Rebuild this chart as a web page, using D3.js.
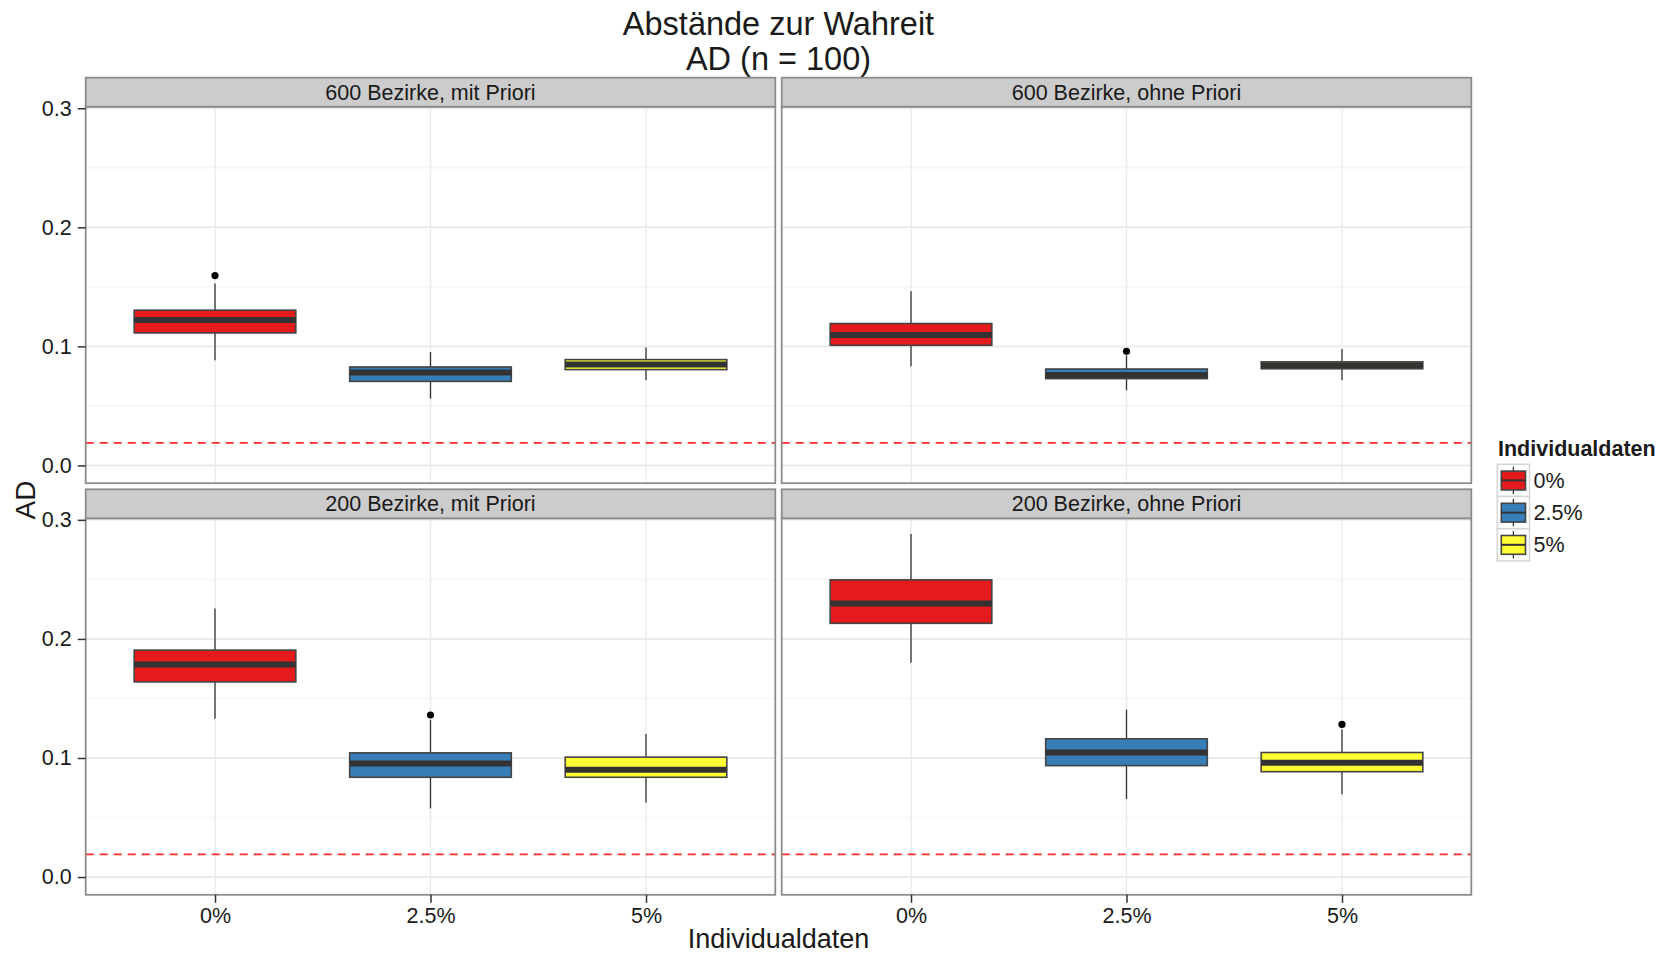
<html>
<head>
<meta charset="utf-8">
<title>Abstände zur Wahreit</title>
<script src="https://d3js.org/d3.v7.min.js"></script>
<style>
	body { margin: 0; background: white; }
	text { font-family: "Liberation Sans", Arial, sans-serif; fill: #1a1a1a; }
</style>
</head>
<body>
<svg id="chart" width="1668" height="954"></svg>
<script>

// Data
var facetTitles = ["600 Bezirke, mit Priori", "600 Bezirke, ohne Priori",
	"200 Bezirke, mit Priori", "200 Bezirke, ohne Priori"];
var groups = ["0%", "2.5%", "5%"];
var colorarray = ["#E41A1C", "#377EB8", "#FFFF33"];

// one row per facet, one value per group
var lowerWhisker = [[0.0883, 0.0561, 0.0715], [0.0833, 0.0631, 0.0715], [0.1330, 0.0577, 0.0627], [0.1799, 0.0655, 0.0695]];
var q1           = [[0.1113, 0.0706, 0.0805], [0.1009, 0.0729, 0.0812], [0.1639, 0.0838, 0.0838], [0.2131, 0.0936, 0.0885]];
var median       = [[0.1222, 0.0780, 0.0847], [0.1096, 0.0760, 0.0841], [0.1785, 0.0953, 0.0902], [0.2297, 0.1046, 0.0961]];
var q3           = [[0.1304, 0.0827, 0.0889], [0.1192, 0.0810, 0.0870], [0.1906, 0.1043, 0.1007], [0.2496, 0.1161, 0.1046]];
var upperWhisker = [[0.1528, 0.0953, 0.0990], [0.1463, 0.0925, 0.0978], [0.2255, 0.1321, 0.1201], [0.2881, 0.1406, 0.1240]];
var outliers     = [[[0.1595], [], []], [[], [0.0959], []], [[], [0.1361], []], [[], [], [0.1282]]];
var refLine = 0.019;

var yTicks = [0.0, 0.1, 0.2, 0.3];
var yMinor = [0.05, 0.15, 0.25];
var yDomain = [-0.0149, 0.3013];

var svg = d3.select("#chart");

// Layout
var colLeft = [85.7, 781.7];
var colW = 689.6;
var rowTop = [77.7, 489.3];
var stripH = 29;
var panelH = 376.5;

var x = d3.scalePoint().domain(groups).range([0, colW]).padding(0.6);
var boxW = x.step() * 0.75;
var y = d3.scaleLinear().domain(yDomain).range([panelH, 0]);
var color = d3.scaleOrdinal().domain(groups).range(colorarray);

// Title
svg.append("text")
	.attr("x", 778.5).attr("y", 35)
	.attr("text-anchor", "middle")
	.style("font-size", "32.5px")
	.text("Abstände zur Wahreit");
svg.append("text")
	.attr("x", 778.5).attr("y", 70)
	.attr("text-anchor", "middle")
	.style("font-size", "32.5px")
	.text("AD (n = 100)");

// Panels
facetTitles.forEach(function(title, f) {
	var col = f % 2, row = Math.floor(f / 2);
	var g = svg.append("g")
		.attr("transform", "translate(" + colLeft[col] + "," + (rowTop[row] + stripH) + ")");

	g.append("rect")
		.attr("width", colW).attr("height", panelH)
		.style("fill", "white");

	// minor gridlines
	g.selectAll(".minor").data(yMinor).enter().append("line")
		.attr("x1", 0).attr("x2", colW)
		.attr("y1", function(d) { return y(d); })
		.attr("y2", function(d) { return y(d); })
		.style("stroke", "#F7F7F7").style("stroke-width", 2);

	// major gridlines
	g.selectAll(".major").data(yTicks).enter().append("line")
		.attr("x1", 0).attr("x2", colW)
		.attr("y1", function(d) { return y(d); })
		.attr("y2", function(d) { return y(d); })
		.style("stroke", "#EBEBEB").style("stroke-width", 2);
	g.selectAll(".vmajor").data(groups).enter().append("line")
		.attr("x1", function(d) { return x(d); })
		.attr("x2", function(d) { return x(d); })
		.attr("y1", 0).attr("y2", panelH)
		.style("stroke", "#EBEBEB").style("stroke-width", 1.5);

	// boxplots
	var stats = groups.map(function(grp, i) {
		return { grp: grp, lw: lowerWhisker[f][i], q1: q1[f][i], med: median[f][i],
			q3: q3[f][i], uw: upperWhisker[f][i], out: outliers[f][i] };
	});
	var box = g.selectAll(".box").data(stats).enter().append("g");

	box.append("line")
		.attr("x1", function(d) { return x(d.grp); })
		.attr("x2", function(d) { return x(d.grp); })
		.attr("y1", function(d) { return y(d.uw); })
		.attr("y2", function(d) { return y(d.lw); })
		.style("stroke", "#333").style("stroke-width", 1.3);
	box.append("rect")
		.attr("x", function(d) { return x(d.grp) - boxW / 2; })
		.attr("width", boxW)
		.attr("y", function(d) { return y(d.q3); })
		.attr("height", function(d) { return y(d.q1) - y(d.q3); })
		.style("fill", function(d) { return color(d.grp); })
		.style("stroke", "#444").style("stroke-width", 1.6);
	box.append("line")
		.attr("x1", function(d) { return x(d.grp) - boxW / 2; })
		.attr("x2", function(d) { return x(d.grp) + boxW / 2; })
		.attr("y1", function(d) { return y(d.med); })
		.attr("y2", function(d) { return y(d.med); })
		.style("stroke", "#333").style("stroke-width", 6);
	box.selectAll(".out")
		.data(function(d) { return d.out.map(function(v) { return { grp: d.grp, v: v }; }); })
		.enter().append("circle")
		.attr("cx", function(d) { return x(d.grp); })
		.attr("cy", function(d) { return y(d.v); })
		.attr("r", 3.6)
		.style("fill", "black");

	// reference line
	g.append("line")
		.attr("x1", 0).attr("x2", colW)
		.attr("y1", y(refLine)).attr("y2", y(refLine))
		.style("stroke", "#FF2B2B").style("stroke-width", 1.8)
		.style("stroke-dasharray", "8,6");

	// panel border
	g.append("rect")
		.attr("width", colW).attr("height", panelH)
		.style("fill", "none").style("stroke", "#8C8C8C").style("stroke-width", 1.8);

	// strip
	svg.append("rect")
		.attr("x", colLeft[col]).attr("y", rowTop[row])
		.attr("width", colW).attr("height", stripH)
		.style("fill", "#CCCCCC").style("stroke", "#8C8C8C").style("stroke-width", 1.8);
	svg.append("text")
		.attr("x", colLeft[col] + colW / 2)
		.attr("y", rowTop[row] + stripH / 2)
		.attr("dy", "0.35em")
		.attr("text-anchor", "middle")
		.style("font-size", "21.5px")
		.text(title);

	// Y-axis (left column only)
	if (col == 0) {
		var ya = g.append("g")
			.call(d3.axisLeft(y).tickValues(yTicks).tickFormat(d3.format(".1f")).tickSize(8).tickPadding(6));
		ya.select(".domain").remove();
		ya.selectAll("line").style("stroke", "#333").style("stroke-width", 1.5);
		ya.selectAll("text").style("font-size", "21.5px").style("fill", "#1a1a1a")
			.style("font-family", "'Liberation Sans', Arial, sans-serif");
	}

	// X-axis (bottom row only)
	if (row == 1) {
		var xa = g.append("g")
			.attr("transform", "translate(0," + panelH + ")")
			.call(d3.axisBottom(x).tickSize(8).tickPadding(4.6));
		xa.select(".domain").remove();
		xa.selectAll("line").style("stroke", "#333").style("stroke-width", 1.5);
		xa.selectAll("text").style("font-size", "21.5px").style("fill", "#1a1a1a")
			.style("font-family", "'Liberation Sans', Arial, sans-serif");
	}
});

// Axis titles
svg.append("text")
	.attr("x", 778.5).attr("y", 948.3)
	.attr("text-anchor", "middle")
	.style("font-size", "27px")
	.text("Individualdaten");
svg.append("text")
	.attr("transform", "translate(35,500) rotate(-90)")
	.attr("text-anchor", "middle")
	.style("font-size", "28px")
	.text("AD");

// Legend
var legX = 1497.3, legY = 464.3, keyS = 32.2;
svg.append("text")
	.attr("x", 1498).attr("y", 456)
	.style("font-size", "21.5px").style("font-weight", "bold")
	.text("Individualdaten");

var key = svg.selectAll(".key").data(groups).enter().append("g")
	.attr("transform", function(d, i) { return "translate(" + legX + "," + (legY + i * keyS) + ")"; });
key.append("rect")
	.attr("width", keyS).attr("height", keyS)
	.style("fill", "white").style("stroke", "#D4D4D4").style("stroke-width", 1.5);
key.append("line")
	.attr("x1", keyS / 2).attr("x2", keyS / 2)
	.attr("y1", 2.4).attr("y2", keyS - 2.4)
	.style("stroke", "#333").style("stroke-width", 1.3);
key.append("rect")
	.attr("x", 4).attr("y", 6.8)
	.attr("width", keyS - 8).attr("height", keyS - 13.4)
	.style("fill", function(d) { return color(d); })
	.style("stroke", "#444").style("stroke-width", 1.6);
key.append("line")
	.attr("x1", 4).attr("x2", keyS - 4)
	.attr("y1", keyS / 2).attr("y2", keyS / 2)
	.style("stroke", "#333").style("stroke-width", 2);
key.append("text")
	.attr("x", keyS + 4).attr("y", keyS / 2)
	.attr("dy", "0.35em")
	.style("font-size", "21.5px")
	.text(function(d) { return d; });

</script>
</body>
</html>
